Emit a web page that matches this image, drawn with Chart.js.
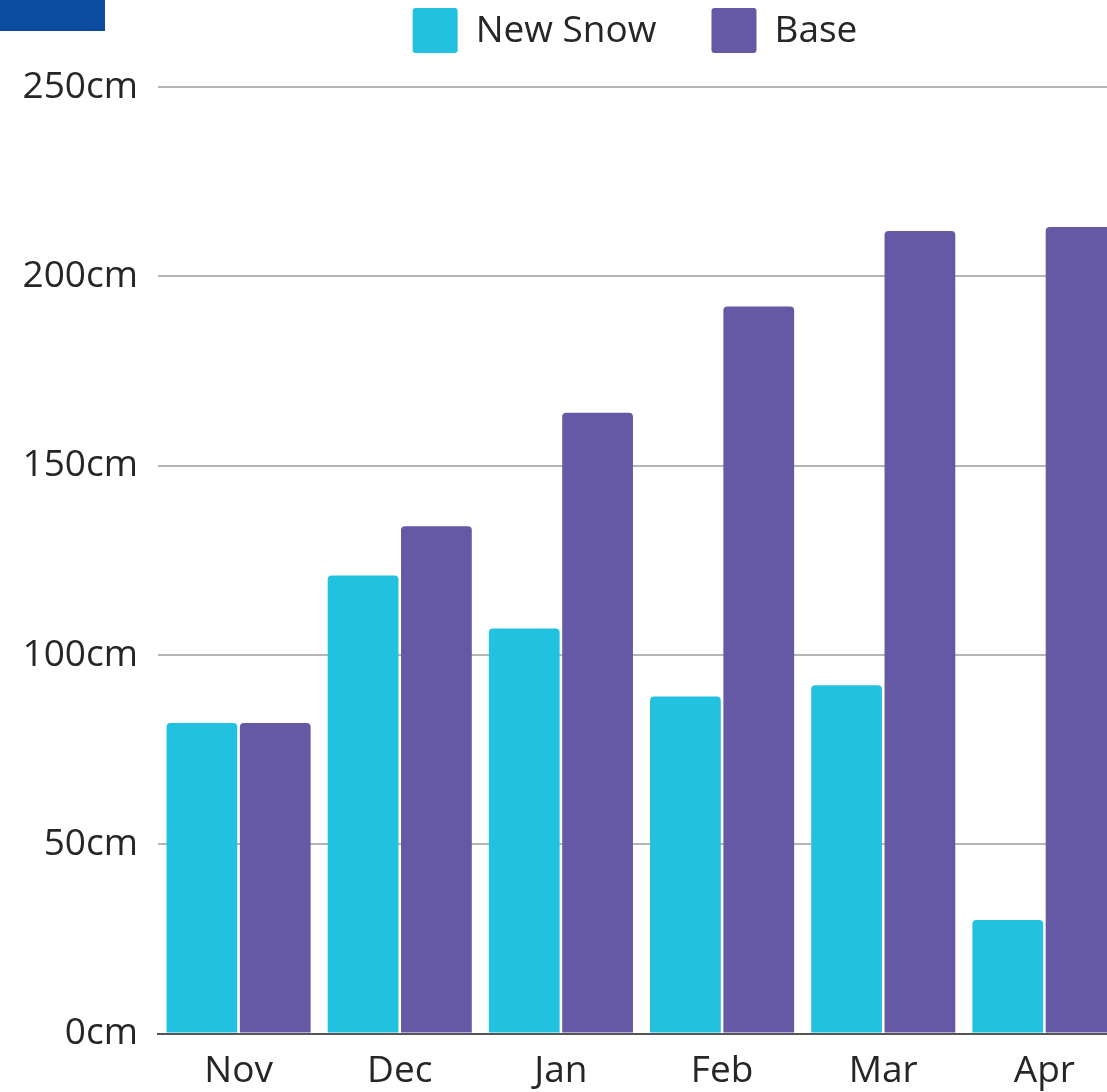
<!DOCTYPE html>
<html lang="en">
<head>
    <meta charset="UTF-8">
    <title>Snow Depth by Month</title>
    <script src="https://cdn.jsdelivr.net/npm/chart.js"></script>
    <style>
        html, body {
            margin: 0;
            padding: 0;
            background: #fff;
            overflow: hidden;
        }
        .wrap {
            position: relative;
            width: 1107px;
            height: 1092px;
            overflow: hidden;
        }
        .tag {
            position: absolute;
            left: 0;
            top: 0;
            width: 105px;
            height: 31px;
            background: #0b4c9f;
        }
        canvas {
            position: absolute;
            left: 0;
            top: 0;
        }
    </style>
</head>
<body>
    <div class="wrap">
        <canvas id="snowChart" width="1125" height="1092"></canvas>
        <div class="tag"></div>
    </div>
    <script>
        const months = ['Nov', 'Dec', 'Jan', 'Feb', 'Mar', 'Apr'];
        const newSnow = [82, 121, 107, 89, 92, 30];
        const baseDepth = [82, 134, 164, 192, 212, 213];
        const yTicks = [0, 50, 100, 150, 200, 250];

        const fontFamily = '"Open Sans", Arial, sans-serif';
        const textColor = '#262626';

        // legend drawn by hand so the boxes sit where the original puts them
        const topLegend = {
            id: 'topLegend',
            afterDraw(chart) {
                const ctx = chart.ctx;
                const box = 45, gap = 18, itemGap = 55, centerX = 635, top = 8;
                ctx.save();
                ctx.font = '37px ' + fontFamily;
                ctx.textBaseline = 'middle';
                const items = chart.data.datasets.map(ds => ({
                    text: ds.label,
                    color: ds.backgroundColor,
                    w: ctx.measureText(ds.label).width
                }));
                let total = 0;
                items.forEach((it, i) => {
                    total += box + gap + it.w + (i ? itemGap : 0);
                });
                let x = centerX - total / 2;
                items.forEach(it => {
                    ctx.fillStyle = it.color;
                    ctx.beginPath();
                    ctx.roundRect(x, top, box, box, 3);
                    ctx.fill();
                    ctx.fillStyle = textColor;
                    ctx.fillText(it.text, x + box + gap, top + box / 2 + 1);
                    x += box + gap + it.w + itemGap;
                });
                ctx.restore();
            }
        };

        const ctx = document.getElementById('snowChart').getContext('2d');
        new Chart(ctx, {
            type: 'bar',
            data: {
                labels: months,
                datasets: [{
                    label: 'New Snow',
                    data: newSnow,
                    backgroundColor: '#22c1e0',
                    borderRadius: 4,
                    categoryPercentage: 0.91,
                    barPercentage: 0.965
                }, {
                    label: 'Base',
                    data: baseDepth,
                    backgroundColor: '#6558a5',
                    borderRadius: 4,
                    categoryPercentage: 0.91,
                    barPercentage: 0.965
                }]
            },
            options: {
                responsive: false,
                animation: false,
                layout: {
                    padding: { top: 87, right: 0, bottom: -18, left: 0 }
                },
                plugins: {
                    legend: { display: false },
                    tooltip: { enabled: false }
                },
                scales: {
                    x: {
                        grid: { display: false, drawTicks: false },
                        border: { display: true, color: '#555555', width: 2 },
                        ticks: {
                            color: textColor,
                            padding: 16,
                            font: { family: fontFamily, size: 37 }
                        }
                    },
                    y: {
                        min: 0,
                        max: 250,
                        afterFit(scale) { scale.width = 158; },
                        afterBuildTicks(scale) {
                            scale.ticks = yTicks.map(v => ({ value: v }));
                        },
                        grid: { color: '#b5b5b5', lineWidth: 2, drawTicks: false },
                        border: { display: false },
                        ticks: {
                            color: textColor,
                            padding: 20,
                            font: { family: fontFamily, size: 37 },
                            callback: v => v + 'cm'
                        }
                    }
                }
            },
            plugins: [topLegend]
        });
    </script>
</body>
</html>
